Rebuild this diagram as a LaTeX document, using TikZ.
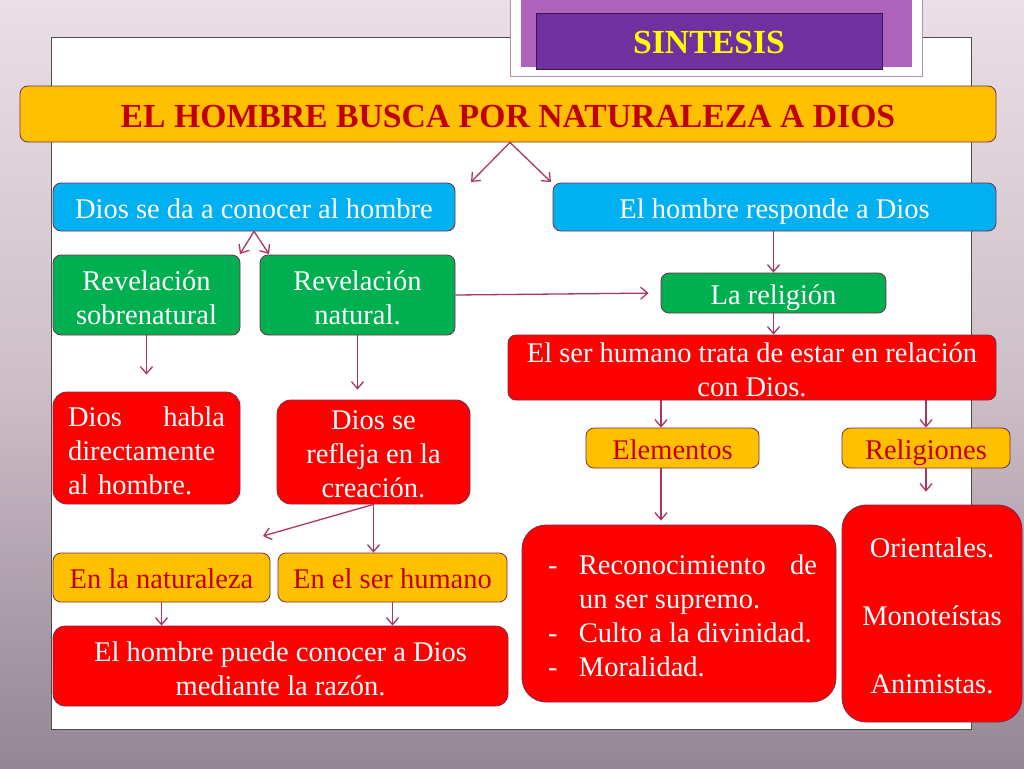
\documentclass[tikz,border=0pt]{standalone}
\usepackage{fontspec}
\setmainfont{Liberation Serif}
\usetikzlibrary{arrows.meta}
\definecolor{yelF}{RGB}{255,192,0}
\definecolor{bluF}{RGB}{0,176,240}
\definecolor{grnF}{RGB}{0,176,80}
\definecolor{redF}{RGB}{255,0,0}
\definecolor{bordC}{RGB}{120,45,75}
\definecolor{drkred}{RGB}{192,0,0}
\definecolor{arrC}{RGB}{172,52,105}
\definecolor{bgTop}{RGB}{234,223,230}
\definecolor{bgMid}{RGB}{205,190,200}
\definecolor{bgBot}{RGB}{148,134,146}
\definecolor{lavF}{RGB}{173,99,187}
\definecolor{purF}{RGB}{112,48,160}
\definecolor{frameC}{RGB}{185,140,175}
\definecolor{ttlY}{RGB}{255,255,0}
\newcommand\topr[1]{\rule{0pt}{#1}}
\tikzset{
  box/.style={draw=bordC, line width=0.8pt, rounded corners=8pt, inner sep=0pt, align=center,
    font=\fontsize{28.5}{34}\selectfont},
  oneline/.style={text height=22pt, text depth=0pt},
  bluebox/.style={box, fill=bluF, text=white},
  greenbox/.style={box, fill=grnF, text=white},
  redbox/.style={box, fill=redF, text=white},
  yelbox/.style={box, fill=yelF, text=drkred},
  arr/.style={draw=arrC, line width=1.3pt, -{Straight Barb[length=7pt,width=12pt]}},
}
\begin{document}
\begin{tikzpicture}[x=1pt,y=-1pt]
\useasboundingbox (0,0) rectangle (1024,768);
% background
\shade[top color=bgTop, bottom color=bgBot, middle color=bgMid] (0,0) rectangle (1024,768);
% white panel
\draw[fill=white, draw=black!70, line width=0.8pt] (51,37) rectangle (971,729);
% title
\draw[fill=white, draw=frameC, line width=0.8pt] (510,-5) rectangle (922,76);
\fill[lavF] (521,-5) rectangle (912,67);
\node[draw=black!50!purF, fill=purF, line width=0.6pt, minimum width=346pt, minimum height=56pt, inner sep=0pt,
  text=ttlY, font=\fontsize{33.7}{38}\selectfont\bfseries, text height=26pt, text depth=0pt] (ttl) at (709,41) {SINTESIS};
% main
\node[yelbox, font=\fontsize{33.7}{38}\selectfont\bfseries, text height=26pt, text depth=0pt, minimum width=976pt, minimum height=56pt] (main) at (508,114) {EL HOMBRE BUSCA POR NATURALEZA A DIOS};
% blue
\node[bluebox, oneline, minimum width=402pt, minimum height=48pt] (blue1) at (254,207) {Dios se da a conocer al hombre};
\node[bluebox, oneline, minimum width=443pt, minimum height=48pt] (blue2) at (774.5,207) {El hombre responde a Dios};
% green
\node[greenbox, minimum width=187pt, minimum height=80pt] (green1) at (146.5,295) {\topr{26pt}Revelación\\sobrenatural};
\node[greenbox, minimum width=195pt, minimum height=80pt] (green2) at (357.5,295) {\topr{26pt}Revelación\\natural.};
\node[greenbox, oneline, minimum width=225pt, minimum height=40pt] (religion) at (773.5,293) {La religión};
% right column
\node[redbox, minimum width=488pt, minimum height=65pt] (redrel) at (752,367.5) {\topr{24pt}El ser humano trata de estar en relación\\con Dios.};
\node[yelbox, oneline, minimum width=173pt, minimum height=40pt] (elem) at (672.5,448) {Elementos};
\node[yelbox, oneline, minimum width=168pt, minimum height=40pt] (relig) at (926,448) {Religiones};
\node[redbox, rounded corners=24pt, minimum width=314pt, minimum height=177pt, align=left] (elemlist) at (679,613.5)
  {\topr{24pt}\hspace*{7pt}\makebox[31pt][l]{-}\makebox[238pt]{Reconocimiento\hfill de}\\
   \hspace*{38pt}un ser supremo.\\
   \hspace*{7pt}\makebox[31pt][l]{-}Culto a la divinidad.\\
   \hspace*{7pt}\makebox[31pt][l]{-}Moralidad.};
\node[redbox, rounded corners=24pt, minimum width=180pt, minimum height=217pt] (religlist) at (932,613.5)
  {\topr{24pt}Orientales.\\[34pt]Monoteístas\\[34pt]Animistas.};
% left column
\node[redbox, rounded corners=14pt, minimum width=187pt, minimum height=112pt, text width=157pt, align=left] (habla) at (146.5,448)
  {\topr{25pt}\makebox[157pt]{Dios\hfill habla}\\directamente\\al hombre.};
\node[redbox, rounded corners=14pt, minimum width=193pt, minimum height=104pt] (refleja) at (373.5,452)
  {\topr{24pt}Dios se\\refleja en la\\creación.};
\node[yelbox, oneline, minimum width=217pt, minimum height=49pt] (nat) at (161.5,577.5) {En la naturaleza};
\node[yelbox, oneline, minimum width=229pt, minimum height=49pt] (serh) at (392.5,577.5) {En el ser humano};
\node[redbox, rounded corners=12pt, minimum width=455pt, minimum height=80pt] (razon) at (280.5,666)
  {\topr{25pt}El hombre puede conocer a Dios\\mediante la razón.};
% coordinates
\coordinate (t1) at (471,182);
\coordinate (t2) at (551,182);
\coordinate (t3) at (240,254);
\coordinate (t4) at (269,254);
\coordinate (t5) at (263,536);
\coordinate (x661) at (661,0);
% arrows
\draw[arr] ([xshift=2pt]main.south) -- (t1);
\draw[arr] ([xshift=2pt]main.south) -- (t2);
\draw[arr] (blue1.south) -- (t3);
\draw[arr] (blue1.south) -- (t4);
\draw[arr, shorten >=12pt] (green2.east) -- (religion.west);
\draw[arr] (blue2.south -| religion.north) -- (religion.north);
\draw[arr] (religion.south) -- (religion.south |- redrel.north);
\draw[arr] (redrel.south -| x661) -- (elem.north -| x661);
\draw[arr] (redrel.south -| relig.north) -- (relig.north);
\draw[arr, shorten >=4pt] (elem.south -| x661) -- (elemlist.north -| x661);
\draw[arr, shorten >=13pt] (relig.south) -- (relig.south |- religlist.north);
\draw[arr, shorten >=17pt] (green1.south) -- (habla.north);
\draw[arr, shorten >=10pt] (green2.south) -- (green2.south |- refleja.north);
\draw[arr] (refleja.south) -- (t5);
\draw[arr] (refleja.south) -- (refleja.south |- serh.north);
\draw[arr] (nat.south) -- (nat.south |- razon.north);
\draw[arr] (serh.south) -- (serh.south |- razon.north);
\end{tikzpicture}
\end{document}
